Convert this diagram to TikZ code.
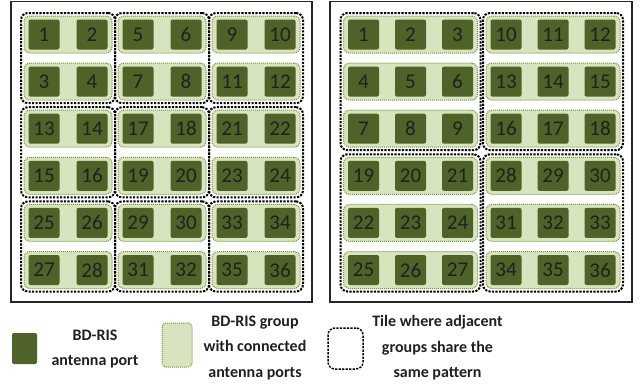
\documentclass[tikz,border=0pt]{standalone}
\usepackage{fontspec}
\setmainfont{Carlito}
\usetikzlibrary{fit}
\definecolor{portgreen}{HTML}{4F6228}
\definecolor{groupgreen}{HTML}{D7E4BD}
\definecolor{groupline}{HTML}{77933C}
\definecolor{numgray}{HTML}{202020}

\begin{document}
\begin{tikzpicture}[x=1pt, y=-1pt,
  port/.style = {fill=portgreen, rounded corners=2pt, minimum width=31pt, minimum height=30pt, inner sep=0pt, text=numgray, font=\fontsize{21}{21}\selectfont},
  group/.style = {draw=groupline, densely dotted, line width=1pt, fill=groupgreen, rounded corners=6pt, minimum height=37pt, inner sep=0pt},
  tile/.style = {draw=black, line width=2pt, dash pattern=on 2.2pt off 1.3pt, rounded corners=7pt, inner sep=2.5pt},
  panel/.style = {draw=black!85, line width=1.8pt},
  legend/.style = {font=\fontsize{16}{25.5}\selectfont\bfseries, text=numgray, align=center}]
\useasboundingbox (0,0) rectangle (641,391);

% left array: groups of 2 ports
\draw[panel] (11,1.5) rectangle (312,302);
\foreach \p in {0,1,2}{
  \foreach \c in {0,1,2}{
    \foreach \r in {0,1}{
      \pgfmathtruncatemacro{\g}{6*\p+2*\c+\r+1}
      \pgfmathtruncatemacro{\a}{2*\g-1}
      \pgfmathtruncatemacro{\b}{2*\g}
      \node[group, minimum width=88pt] (lg\g) at ({68+94*\c},{34.5+47.1*(2*\p+\r)}) {};
      \node[port] (l\a) at ([xshift=-24pt]lg\g.center) {\a};
      \node[port] (l\b) at ([xshift=24pt]lg\g.center) {\b};
    }
    \pgfmathtruncatemacro{\m}{6*\p+2*\c+1}
    \pgfmathtruncatemacro{\k}{\m+1}
    \node[tile, fit=(lg\m)(lg\k)] (lt\p\c) {};
  }
}

% right array: groups of 3 ports
\draw[panel] (330,1.5) rectangle (632,302);
\foreach \p in {0,1}{
  \foreach \c in {0,1}{
    \foreach \r in {0,1,2}{
      \pgfmathtruncatemacro{\g}{6*\p+3*\c+\r+1}
      \pgfmathtruncatemacro{\a}{3*\g-2}
      \pgfmathtruncatemacro{\b}{3*\g-1}
      \pgfmathtruncatemacro{\d}{3*\g}
      \node[group, minimum width=134pt] (rg\g) at ({410.5+142.5*\c},{34.5+47.1*(3*\p+\r)}) {};
      \node[port] (r\a) at ([xshift=-47pt]rg\g.center) {\a};
      \node[port] (r\b) at (rg\g.center) {\b};
      \node[port] (r\d) at ([xshift=47pt]rg\g.center) {\d};
    }
    \pgfmathtruncatemacro{\m}{6*\p+3*\c+1}
    \pgfmathtruncatemacro{\k}{\m+2}
    \node[tile, fit=(rg\m)(rg\k)] (rt\p\c) {};
  }
}

% legend
\node[port, minimum width=25pt, minimum height=31pt] (keyport) at (24.5,348.5) {};
\node[legend] (keyporttext) at (95,349) {BD-RIS\\antenna port};
\node[group, minimum width=30pt, minimum height=44pt, rounded corners=4pt] (keygroup) at (177,345) {};
\node[legend] (keygrouptext) at (255,348) {BD-RIS group\\with connected\\antenna ports};
\node[tile, line width=1.5pt, minimum width=35pt, minimum height=41pt, inner sep=0pt] (keytile) at (345.5,348.5) {};
\node[legend] (keytiletext) at (437.5,348) {Tile where adjacent\\groups share the\\same pattern};
\end{tikzpicture}
\end{document}
